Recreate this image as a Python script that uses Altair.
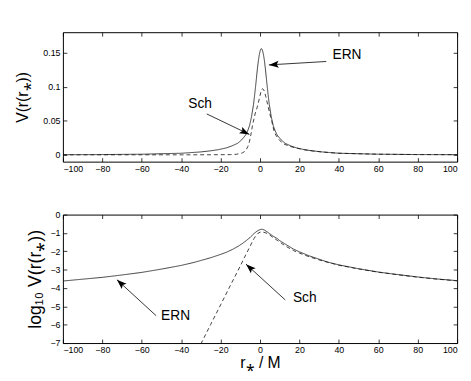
import math
import altair as alt
import pandas as pd

FONT = "Liberation Sans"
X_TICKS = [-100, -80, -60, -40, -20, 0, 20, 40, 60, 80, 100]
TOP_Y_TICKS = [0, 0.05, 0.1, 0.15]
BOT_Y_TICKS = [-7, -6, -5, -4, -3, -2, -1, 0]

# ---- top panel: V(r(r*)) (linear) ----
ern_lin_r = [-100, -80, -60, -40, -30.3, -25.3, -21.3, -17.3, -14.3, -11.3, -9.3, -7.3, -6.3,
             -5.3, -4.3, -3.3, -2.8, -2.3, -1.8, -1.3, -0.8, -0.3, 0.2, 0.7, 1.2, 1.7, 2.2,
             2.7, 3.2, 3.7, 4.2, 4.7, 5.7, 6.7, 7.7, 8.7, 10.7, 12.7, 15.7, 18.7, 22.7, 26.7,
             31.7, 40, 60, 80, 100]
ern_lin_v = [0.0002, 0.0004, 0.0009, 0.0023, 0.0042, 0.0058, 0.0075, 0.010, 0.013, 0.017, 0.022,
             0.029, 0.035, 0.043, 0.056, 0.074, 0.086, 0.099, 0.113, 0.127, 0.139, 0.148, 0.154,
             0.156, 0.154, 0.148, 0.139, 0.127, 0.113, 0.099, 0.086, 0.074, 0.056, 0.043, 0.035,
             0.029, 0.022, 0.017, 0.013, 0.010, 0.0075, 0.0058, 0.0042, 0.0023, 0.0009, 0.0004,
             0.0002]
sch_lin_r = [-100, -60, -40, -25, -15, -12, -10, -9, -8, -7, -6.2, -5.4, -4.6, -3.7, -2.5, -1.2,
             0, 0.6, 1.2, 2, 3, 4, 5, 6, 7, 8, 10, 12, 15, 18.7, 22.7, 26.7, 31.7, 40, 60, 80, 100]
sch_lin_v = [0.0, 0.0, 0.0, 0.0001, 0.0003, 0.0008, 0.0018, 0.0028, 0.0045, 0.0075, 0.012, 0.019,
             0.030, 0.045, 0.060, 0.072, 0.087, 0.094, 0.097, 0.095, 0.085, 0.072, 0.060, 0.049,
             0.036, 0.029, 0.021, 0.016, 0.0125, 0.0098, 0.0073, 0.0057, 0.0041, 0.0023, 0.0009,
             0.0004, 0.0002]

# ---- bottom panel: log10 V(r(r*)) ----
ern_log_r = [-100, -90, -80, -70, -60, -50, -40, -34, -30, -25, -20, -17, -14, -11, -9, -7, -5,
             -3, -2, -1, 0, 0.7, 1.5, 2.5, 3.5, 5, 7, 8.7, 10, 13, 17, 20, 25, 30, 34, 40, 50,
             60, 70, 80, 90, 100]
ern_log_v = [-3.62, -3.52, -3.42, -3.29, -3.15, -2.97, -2.77, -2.62, -2.50, -2.35, -2.17, -2.05,
             -1.90, -1.72, -1.58, -1.42, -1.24, -1.03, -0.94, -0.87, -0.82, -0.80, -0.81, -0.86,
             -0.93, -1.05, -1.20, -1.30, -1.42, -1.62, -1.88, -2.03, -2.25, -2.43, -2.58, -2.74,
             -2.95, -3.13, -3.27, -3.40, -3.51, -3.60]
sch_log_r = [-30, -25, -20, -15, -10, -8, -6, -4, -3, -2, -1, 0, 1, 2, 3, 4, 5, 6, 7, 8.7, 10,
             13, 17, 20, 25, 30, 40, 50, 60, 70, 80, 90, 100]
sch_log_v = [-7.05, -5.98, -4.92, -3.85, -2.80, -2.36, -1.93, -1.50, -1.30, -1.13, -1.02, -0.96,
             -0.94, -0.97, -1.00, -1.05, -1.12, -1.20, -1.28, -1.40, -1.50, -1.72, -1.96, -2.10,
             -2.30, -2.47, -2.76, -2.96, -3.14, -3.28, -3.41, -3.52, -3.61]

# ---- annotations (data coordinates) ----
top_labels = ["ERN", "Sch"]
top_text_r = [36.8, -36.4]
top_text_v = [0.146, 0.074]
top_tail_r = [33.6, -27.0]
top_tail_v = [0.137, 0.060]
top_tip_r = [4.5, -5.4]
top_tip_v = [0.132, 0.030]

bot_labels = ["ERN", "Sch"]
bot_text_r = [-50.2, 16.7]
bot_text_v = [-5.54, -4.55]
bot_tail_r = [-52.7, 12.8]
bot_tail_v = [-5.51, -4.65]
bot_tip_r = [-72.6, -7.1]
bot_tip_v = [-3.55, -2.70]

W = 402
H_TOP = 132
H_BOT = 131
TOP_DOM = [-0.01, 0.18]
BOT_DOM = [-7, 0]

ARROW = "M0,0L-0.9,2.5L0,2L0.9,2.5Z"


def lines_frame(ern_r, ern_v, sch_r, sch_v):
    rows = [{"r": r, "v": v, "series": "ERN"} for r, v in zip(ern_r, ern_v)]
    rows += [{"r": r, "v": v, "series": "Sch"} for r, v in zip(sch_r, sch_v)]
    return pd.DataFrame(rows)


def ann_frame(labels, tr, tv, ar, av, pr, pv, dom, h):
    sx = W / 200.0
    sy = h / (dom[1] - dom[0])
    angles = []
    for a_r, a_v, p_r, p_v in zip(ar, av, pr, pv):
        dx = (p_r - a_r) * sx
        dy = -(p_v - a_v) * sy
        angles.append(math.degrees(math.atan2(dx, -dy)) % 360)
    return pd.DataFrame({"label": labels, "text_r": tr, "text_v": tv, "tail_r": ar,
                         "tail_v": av, "tip_r": pr, "tip_v": pv, "angle": angles})


def panel(ldf, adf, dom, yticks, yfmt, ytitle, ytsize, ytpad, h, xtitle):
    xs = alt.Scale(domain=[-100, 100], nice=False, zero=False)
    ys = alt.Scale(domain=dom, nice=False, zero=False)
    common = dict(offset=-4, tickSize=4, domain=False, grid=False, tickColor="black",
                  tickWidth=0.8)
    xkw = dict(values=X_TICKS, labelPadding=3, labelFont=FONT, labelFontSize=9,
               labelColor="black", titleFont=FONT, titleFontSize=16, titleColor="black",
               titleFontWeight="normal", titlePadding=0, **common)
    if xtitle:
        x_axis = alt.Axis(title=xtitle, **xkw)
    else:
        x_axis = alt.Axis(title=None, **xkw)
    y_axis = alt.Axis(values=yticks, format=yfmt, labelPadding=3, labelFont=FONT,
                      labelFontSize=9, labelColor="black", title=ytitle, titleFont=FONT,
                      titleFontSize=ytsize, titleColor="black", titleFontWeight="normal",
                      titlePadding=ytpad, **common)
    x_axis2 = alt.Axis(orient="top", values=X_TICKS, labels=False, title=None, **common)
    y_axis2 = alt.Axis(orient="right", values=yticks, labels=False, title=None, **common)

    lines = alt.Chart(ldf).mark_line(clip=True, color="#111111", strokeWidth=0.8).encode(
        x=alt.X("r:Q", scale=xs, axis=x_axis),
        y=alt.Y("v:Q", scale=ys, axis=y_axis),
        strokeDash=alt.StrokeDash("series:N",
                                  scale=alt.Scale(domain=["ERN", "Sch"], range=[[1, 0], [4, 3]]),
                                  legend=None),
    )
    rules = alt.Chart(adf).mark_rule(color="black", strokeWidth=0.8).encode(
        x=alt.X("tail_r:Q", scale=xs, axis=x_axis2),
        x2="tip_r:Q",
        y=alt.Y("tail_v:Q", scale=ys, axis=y_axis2),
        y2="tip_v:Q",
    )
    heads = alt.Chart(adf).mark_point(shape=ARROW, filled=True, color="black", size=64,
                                      opacity=1, strokeWidth=0).encode(
        x=alt.X("tip_r:Q", scale=xs, axis=None),
        y=alt.Y("tip_v:Q", scale=ys, axis=None),
        angle=alt.Angle("angle:Q", scale=None),
    )
    texts = alt.Chart(adf).mark_text(align="left", baseline="middle", font=FONT, fontSize=14,
                                     color="black").encode(
        x=alt.X("text_r:Q", scale=xs, axis=None),
        y=alt.Y("text_v:Q", scale=ys, axis=None),
        text="label:N",
    )
    return alt.layer(lines, rules, heads, texts).resolve_axis(
        x="independent", y="independent").properties(width=W, height=h)


top = panel(lines_frame(ern_lin_r, ern_lin_v, sch_lin_r, sch_lin_v),
            ann_frame(top_labels, top_text_r, top_text_v, top_tail_r, top_tail_v,
                      top_tip_r, top_tip_v, TOP_DOM, H_TOP),
            TOP_DOM, TOP_Y_TICKS, "~g", "V(r(r\u204e))", 16, 13, H_TOP, None)
bottom = panel(lines_frame(ern_log_r, ern_log_v, sch_log_r, sch_log_v),
               ann_frame(bot_labels, bot_text_r, bot_text_v, bot_tail_r, bot_tail_v,
                         bot_tip_r, bot_tip_v, BOT_DOM, H_BOT),
               BOT_DOM, BOT_Y_TICKS, "d", "log\u2081\u2080 V(r(r\u204e))", 18, 6, H_BOT,
               "r\u204e / M")

chart = alt.vconcat(top, bottom, spacing=36).properties(
    padding={"left": 5, "top": 20, "right": 5, "bottom": 5},
    background="white",
).configure_view(stroke="black", strokeWidth=1)

chart.save("out.html", embed_options={"renderer": "svg", "actions": False})
